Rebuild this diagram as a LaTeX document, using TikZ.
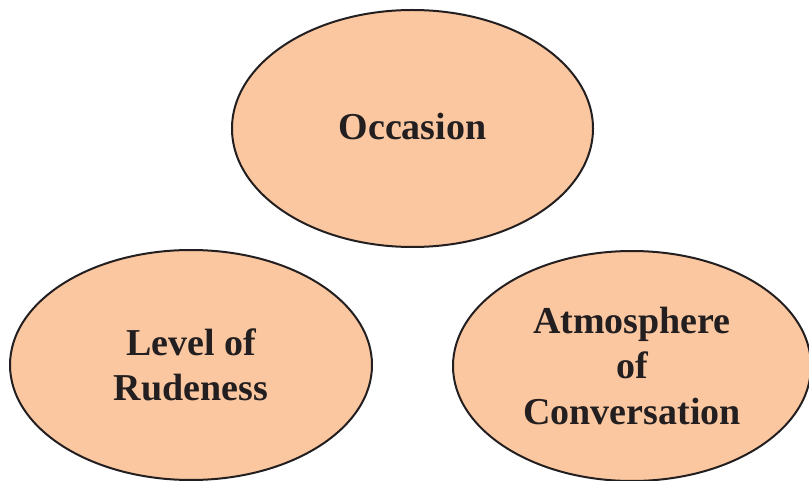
\documentclass[tikz,border=0pt]{standalone}
\usepackage{fontspec}
\setmainfont{Liberation Serif}
\usetikzlibrary{shapes.geometric}
\definecolor{peach}{HTML}{FBC7A0}
\definecolor{inkline}{HTML}{231F20}
\tikzset{
  bubble/.style={ellipse, draw=inkline, line width=2pt, fill=peach,
    inner sep=0pt, align=center, text=inkline,
    font=\fontsize{38}{45.5}\selectfont\bfseries}
}
\begin{document}
\begin{tikzpicture}[x=1pt, y=-1pt]
        \useasboundingbox (0,0) rectangle (809,481);
        \node[bubble, minimum width=361pt, minimum height=237pt] (occasion) at (412.5, 128.5) {\raisebox{5pt}{Occasion}};
        \node[bubble, minimum width=362pt, minimum height=230pt] (rudeness) at (191, 365) {Level of\\Rudeness};
        \node[bubble, minimum width=358pt, minimum height=230pt] (atmosphere) at (632, 366) {Atmosphere\\of\\Conversation};
    \end{tikzpicture}
\end{document}
